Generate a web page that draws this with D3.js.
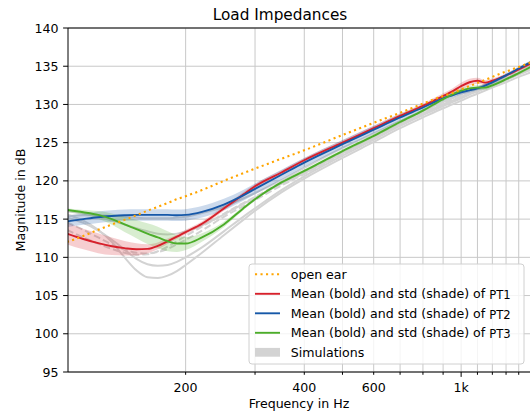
<!DOCTYPE html>
<html>
<head>
<meta charset="utf-8">
<script src="https://cdn.jsdelivr.net/npm/d3@7"></script>
<style>
  body { margin: 0; background: #fff; }
  svg { display: block; font-family: "DejaVu Sans", sans-serif; }
</style>
</head>
<body>
<svg id="chart" width="530" height="416"></svg>
<script>
// frequencies in Hz
const freq = [100, 110, 120, 130, 140, 150, 160, 170, 180, 190, 200, 220, 250, 280, 300, 350,
  400, 500, 600, 700, 800, 900, 950, 1000, 1050, 1100, 1150, 1200, 1300, 1400, 1500, 1600];

const openEar = [112.0, 112.8, 113.6, 114.3, 114.9, 115.5, 116.1, 116.6, 117.1, 117.6, 118.0, 118.8, 120.0, 121.0, 121.6, 122.9,
  124.0, 126.0, 127.6, 128.9, 130.1, 131.1, 131.5, 132.0, 132.4, 132.8, 133.2, 133.6, 134.3, 134.9, 135.5, 136.1];

const pt1Mean = [113.1, 112.4, 111.85, 111.45, 111.2, 111.05, 111.1, 111.5, 112.1, 112.7, 113.3, 114.4, 116.4, 118.2, 119.3, 121.1,
  122.7, 125.0, 126.9, 128.5, 129.8, 131.1, 131.7, 132.4, 132.9, 133.1, 132.85, 133.1, 133.8, 134.6, 135.35, 136.1];
const pt1Std = [1.4, 1.35, 1.3, 1.15, 0.95, 0.8, 0.6, 0.45, 0.35, 0.3, 0.3, 0.3, 0.3, 0.3, 0.3, 0.3,
  0.3, 0.3, 0.3, 0.3, 0.3, 0.35, 0.4, 0.45, 0.45, 0.4, 0.35, 0.3, 0.25, 0.25, 0.25, 0.25];

const pt2Mean = [114.7, 115.0, 115.25, 115.4, 115.5, 115.55, 115.55, 115.55, 115.55, 115.5, 115.55, 115.95, 116.9, 118.1, 118.95, 120.8,
  122.4, 124.8, 126.7, 128.3, 129.6, 130.8, 131.2, 131.6, 131.85, 132.1, 132.45, 132.9, 133.8, 134.7, 135.5, 136.3];
const pt2Std = [0.75, 0.75, 0.75, 0.75, 0.75, 0.75, 0.75, 0.75, 0.75, 0.75, 0.75, 0.75, 0.75, 0.7, 0.7, 0.65,
  0.6, 0.55, 0.5, 0.45, 0.4, 0.35, 0.3, 0.3, 0.3, 0.25, 0.25, 0.25, 0.25, 0.25, 0.25, 0.25];

const pt3Mean = [116.2, 115.9, 115.55, 115.0, 114.3, 113.7, 113.1, 112.6, 112.1, 111.8, 111.8, 112.6, 114.3, 116.4, 117.6, 119.8,
  121.3, 123.9, 125.9, 127.7, 129.2, 130.7, 131.3, 131.8, 132.1, 132.2, 132.2, 132.5, 133.3, 134.1, 134.9, 135.7];
const pt3Std = [0.2, 0.3, 0.5, 0.75, 1.0, 1.2, 1.35, 1.4, 1.3, 1.1, 0.85, 0.55, 0.35, 0.25, 0.2, 0.2,
  0.2, 0.2, 0.2, 0.2, 0.2, 0.25, 0.3, 0.3, 0.3, 0.3, 0.3, 0.25, 0.2, 0.2, 0.2, 0.2];

const sim1 = [115.6, 114.8, 113.6, 112.0, 110.0, 108.3, 107.4, 107.3, 107.6, 108.2, 109.0, 110.6, 112.9, 114.9, 116.1, 118.5,
  120.3, 123.0, 125.1, 126.9, 128.3, 129.5, 130.0, 130.5, 131.0, 131.4, 131.8, 132.2, 132.9, 133.6, 134.2, 134.8];
const sim2 = [115.2, 114.5, 113.5, 112.3, 111.0, 109.8, 109.1, 108.9, 109.0, 109.4, 110.0, 111.3, 113.4, 115.3, 116.4, 118.8,
  120.6, 123.3, 125.4, 127.2, 128.6, 129.8, 130.3, 130.8, 131.3, 131.7, 132.1, 132.5, 133.2, 133.9, 134.5, 135.1];
const sim3 = [113.6, 112.6, 111.8, 111.1, 110.6, 110.35, 110.4, 110.8, 111.4, 112.1, 112.8, 114.0, 115.7, 117.1, 117.9, 119.8,
  121.2, 123.7, 125.7, 127.5, 128.9, 130.1, 130.6, 131.1, 131.6, 132.0, 132.4, 132.8, 133.5, 134.2, 134.8, 135.4];
const sim4 = [116.0, 115.7, 115.3, 114.8, 114.3, 113.8, 113.4, 113.1, 113.0, 113.1, 113.4, 114.2, 115.6, 117.0, 117.8, 119.6,
  121.0, 123.6, 125.6, 127.4, 128.8, 130.0, 130.5, 131.0, 131.5, 131.9, 132.3, 132.7, 133.4, 134.1, 134.7, 135.3];
const sim5 = [115.4, 115.5, 115.5, 115.4, 115.3, 115.2, 115.1, 115.1, 115.1, 115.2, 115.3, 115.8, 116.6, 117.7, 118.4, 120.1,
  121.7, 124.3, 126.2, 127.8, 129.1, 130.3, 130.8, 131.3, 131.8, 132.2, 132.6, 133.0, 133.8, 134.5, 135.1, 135.8];
const sim6 = [114.6, 113.6, 112.6, 111.7, 111.0, 110.6, 110.5, 110.7, 111.1, 111.7, 112.3, 113.5, 115.3, 116.7, 117.5, 119.4,
  120.9, 123.5, 125.5, 127.3, 128.7, 129.9, 130.4, 130.9, 131.4, 131.8, 132.2, 132.6, 133.3, 134.0, 134.6, 135.2];

const yTicks = [95, 100, 105, 110, 115, 120, 125, 130, 135, 140];
const xMinorTicks = [200, 300, 400, 500, 600, 700, 800, 900, 1100, 1200, 1300, 1400, 1500];
const xMajorTicks = [1000];
const xTickLabels = { 200: "200", 400: "400", 600: "600", 1000: "1k" };
const legendLabels = ["open ear", "Mean (bold) and std (shade) of ", "Mean (bold) and std (shade) of ",
  "Mean (bold) and std (shade) of ", "Simulations"];
const legendSubs = ["", "PT1", "PT2", "PT3", ""];

const svg = d3.select("#chart");
const mLeft = 68, mRight = 531, mTop = 28, mBottom = 372;

const x = d3.scaleLog().domain([100.6, 1504]).range([mLeft, mRight]);
const y = d3.scaleLinear().domain([95, 140]).range([mBottom, mTop]);

svg.append("defs").append("clipPath").attr("id", "clip")
  .append("rect").attr("x", mLeft).attr("y", mTop).attr("width", mRight - mLeft).attr("height", mBottom - mTop);

// grid
const grid = svg.append("g").attr("stroke", "#c8c8c8").attr("stroke-width", 1);
grid.selectAll(".gx").data(xMinorTicks.concat(xMajorTicks)).join("line")
  .attr("x1", d => x(d)).attr("x2", d => x(d)).attr("y1", mTop).attr("y2", mBottom);
grid.selectAll(".gy").data(yTicks).join("line")
  .attr("x1", mLeft).attr("x2", mRight).attr("y1", d => y(d)).attr("y2", d => y(d));

const plot = svg.append("g").attr("clip-path", "url(#clip)");
const line = vals => d3.line().curve(d3.curveMonotoneX)
  .x((d, i) => x(freq[i])).y(d => y(d))(vals);
const band = (m, s) => d3.area().curve(d3.curveMonotoneX)
  .x((d, i) => x(freq[i])).y0((d, i) => y(m[i] - s[i])).y1((d, i) => y(m[i] + s[i]))(m);

// simulations
[sim1, sim2, sim3, sim4, sim5, sim6].forEach((s, i) => {
  plot.append("path").attr("d", line(s)).attr("fill", "none")
    .attr("stroke", "#d3d3d3").attr("stroke-width", 2)
    .attr("stroke-dasharray", (i === 2 || i === 5) ? "7,3" : null);
});

const series = [
  { mean: pt1Mean, std: pt1Std, color: "#d7202b" },
  { mean: pt2Mean, std: pt2Std, color: "#1658a8" },
  { mean: pt3Mean, std: pt3Std, color: "#4cad2a" }
];
series.forEach(s => {
  plot.append("path").attr("d", band(s.mean, s.std)).attr("fill", s.color).attr("fill-opacity", 0.22);
});
series.forEach(s => {
  plot.append("path").attr("d", line(s.mean)).attr("fill", "none")
    .attr("stroke", s.color).attr("stroke-width", 1.9);
});

plot.append("path").attr("d", line(openEar)).attr("fill", "none")
  .attr("stroke", "#ffa500").attr("stroke-width", 2.1).attr("stroke-dasharray", "2.1,3.4");

// spines
const ax = svg.append("g").attr("stroke", "#000").attr("stroke-width", 1);
ax.append("line").attr("x1", mLeft).attr("x2", mLeft).attr("y1", mTop).attr("y2", mBottom);
ax.append("line").attr("x1", mLeft).attr("x2", mRight).attr("y1", mBottom).attr("y2", mBottom);
ax.append("line").attr("x1", mLeft).attr("x2", mRight).attr("y1", mTop).attr("y2", mTop);

// ticks
ax.selectAll(".ty").data(yTicks).join("line")
  .attr("x1", mLeft - 4.9).attr("x2", mLeft).attr("y1", d => y(d)).attr("y2", d => y(d));
ax.selectAll(".txm").data(xMinorTicks).join("line")
  .attr("x1", d => x(d)).attr("x2", d => x(d)).attr("y1", mBottom).attr("y2", mBottom + 2.8);
ax.selectAll(".txM").data(xMajorTicks).join("line")
  .attr("x1", d => x(d)).attr("x2", d => x(d)).attr("y1", mBottom).attr("y2", mBottom + 4.9);

const txt = svg.append("g").attr("fill", "#000").attr("font-size", 12.6);
txt.selectAll(".ly").data(yTicks).join("text")
  .attr("x", mLeft - 9.5).attr("y", d => y(d) + 4.5).attr("text-anchor", "end").text(d => d);
txt.selectAll(".lx").data(Object.keys(xTickLabels).map(Number)).join("text")
  .attr("x", d => x(d)).attr("y", 391.7).attr("text-anchor", "middle").text(d => xTickLabels[d]);

txt.append("text").attr("x", 299).attr("y", 408).attr("text-anchor", "middle").text("Frequency in Hz");
txt.append("text").attr("transform", "translate(24.5,200) rotate(-90)")
  .attr("text-anchor", "middle").text("Magnitude in dB");
svg.append("text").attr("x", 280).attr("y", 20).attr("text-anchor", "middle")
  .attr("font-size", 15.3).text("Load Impedances");

// legend
const lg = svg.append("g");
lg.append("rect").attr("x", 249).attr("y", 264).attr("width", 275).attr("height", 100).attr("rx", 3)
  .attr("fill", "#fff").attr("fill-opacity", 0.8).attr("stroke", "#d0d0d0");
const rowY = i => 274.3 + i * 19.5;
lg.append("line").attr("x1", 255).attr("x2", 280).attr("y1", rowY(0)).attr("y2", rowY(0))
  .attr("stroke", "#ffa500").attr("stroke-width", 2.1).attr("stroke-dasharray", "2.1,3.4");
series.forEach((s, i) => {
  lg.append("line").attr("x1", 255).attr("x2", 280).attr("y1", rowY(i + 1)).attr("y2", rowY(i + 1))
    .attr("stroke", s.color).attr("stroke-width", 1.9);
});
lg.append("rect").attr("x", 255).attr("y", rowY(4) - 4.4).attr("width", 25).attr("height", 8.8)
  .attr("fill", "#d3d3d3");
legendLabels.forEach((t, i) => {
  const el = lg.append("text").attr("x", 290.7).attr("y", rowY(i) + 4.6).attr("font-size", 12.6);
  el.append("tspan").text(t);
  if (legendSubs[i]) el.append("tspan").attr("font-size", 11.6).attr("dy", 1).text(legendSubs[i]);
});
</script>
</body>
</html>
